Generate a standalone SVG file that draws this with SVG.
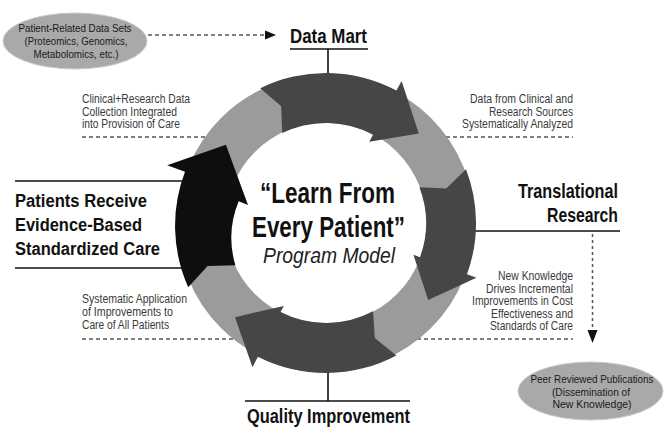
<svg xmlns="http://www.w3.org/2000/svg" width="666" height="434" viewBox="0 0 666 434">
<style>
.bg{fill:#ffffff}
.sm{font-family:"Liberation Sans",Arial,sans-serif;font-size:12.5px;fill:#3a3a3a}
.el{font-family:"Liberation Sans",Arial,sans-serif;font-size:11px;fill:#1a1a1a}
.hd{font-family:"Liberation Sans",Arial,sans-serif;font-weight:bold;fill:#111}
.ell{fill:#a9a9a9;stroke:#c8c8c8;stroke-width:1}
.dash{stroke:#555;stroke-width:1.3;stroke-dasharray:4 3;fill:none}
.dot{stroke:#555;stroke-width:1.5;stroke-dasharray:3 3;fill:none}
.solid{stroke:#111;stroke-width:1.6;fill:none}
.dark{fill:#464646}
.blk{fill:#0e0e0e}
.ah{fill:#111}
</style>
<rect class="bg" x="0" y="0" width="666" height="434"/>

<g id="connectors">
  <line class="dash" x1="148" y1="35" x2="265" y2="35"/>
  <polygon class="ah" points="265,30.5 276,35 265,39.5"/>
  <line class="solid" x1="328" y1="49" x2="328" y2="80"/>
  <line class="solid" x1="328" y1="368" x2="328" y2="401"/>
  <line class="solid" x1="15" y1="181" x2="190" y2="181"/>
  <line class="solid" x1="15" y1="268" x2="190" y2="268"/>
  <line class="solid" x1="465" y1="231" x2="620" y2="231"/>
  <line class="dot" x1="592.5" y1="234" x2="592.5" y2="331"/>
  <polygon class="ah" points="587.5,330 597.5,330 592.5,343"/>
  <line class="dash" x1="82" y1="137" x2="230" y2="137"/>
  <line class="dash" x1="425" y1="137" x2="573" y2="137"/>
  <line class="dash" x1="82" y1="339" x2="245" y2="339"/>
  <line class="dash" x1="410" y1="339" x2="573" y2="339"/>
</g>

<g id="cycle">
  <circle cx="326" cy="223" r="124.5" fill="none" stroke="#9b9b9b" stroke-width="48"/>
  <path id="arrow-top" class="dark" d="M260.2,88.2 A150,150 0 0 1 396.4,90.6 L401.6,80.9 L418.8,133.4 L369.2,141.8 L373.0,134.7 A100,100 0 0 0 282.2,133.1 L281.2,106.3 Z"/>
  <path id="arrow-right" class="dark" d="M466.0,169.2 A150,150 0 0 1 467.0,274.3 L476.4,277.7 L428.2,300.0 L413.4,254.8 L420.0,257.2 A100,100 0 0 0 419.4,187.2 L446.2,188.5 Z"/>
  <path id="arrow-bottom" class="dark" d="M396.4,355.4 A150,150 0 0 1 257.9,356.7 L252.5,367.3 L235.0,317.2 L283.8,305.9 L280.6,312.1 A100,100 0 0 0 373.0,311.3 L374.8,338.1 Z"/>
  <path id="arrow-left" class="blk" d="M188.2,287.2 A151,151 0 0 1 185.0,171.7 L167.2,165.2 L225.9,144.8 L248.0,205.0 L238.7,201.2 A96,96 0 0 0 235.4,265.3 L207.6,266.1 Z"/>
</g>

<g id="center-title">
  <text class="hd" x="327.5" y="203" font-size="29.5" text-anchor="middle" textLength="135" lengthAdjust="spacingAndGlyphs">“Learn From</text>
  <text class="hd" x="328.5" y="237" font-size="29.5" text-anchor="middle" textLength="153" lengthAdjust="spacingAndGlyphs">Every Patient”</text>
  <text x="329" y="263" font-family="'Liberation Sans',Arial,sans-serif" font-style="italic" font-size="21.5" fill="#222" text-anchor="middle" textLength="132" lengthAdjust="spacingAndGlyphs">Program Model</text>
</g>

<g id="patient-data-sets">
  <ellipse class="ell" cx="75" cy="41" rx="72" ry="28"/>
  <text class="el" x="75" y="32" text-anchor="middle" textLength="113" lengthAdjust="spacingAndGlyphs">Patient-Related Data Sets</text>
  <text class="el" x="76" y="45" text-anchor="middle" textLength="103" lengthAdjust="spacingAndGlyphs">(Proteomics, Genomics,</text>
  <text class="el" x="76" y="57.5" text-anchor="middle" textLength="85" lengthAdjust="spacingAndGlyphs">Metabolomics, etc.)</text>
</g>

<g id="data-mart">
  <text class="hd" x="290" y="42.5" font-size="20" textLength="77" lengthAdjust="spacingAndGlyphs">Data Mart</text>
  <line class="solid" x1="290" y1="49" x2="368" y2="49"/>
</g>

<g id="clinical-research">
  <text class="sm" x="82" y="103" textLength="108" lengthAdjust="spacingAndGlyphs">Clinical+Research Data</text>
  <text class="sm" x="82" y="115.5" textLength="95" lengthAdjust="spacingAndGlyphs">Collection Integrated</text>
  <text class="sm" x="82" y="128" textLength="98" lengthAdjust="spacingAndGlyphs">into Provision of Care</text>
</g>

<g id="data-analyzed">
  <text class="sm" x="573" y="103" text-anchor="end" textLength="103" lengthAdjust="spacingAndGlyphs">Data from Clinical and</text>
  <text class="sm" x="573" y="115.5" text-anchor="end" textLength="84" lengthAdjust="spacingAndGlyphs">Research Sources</text>
  <text class="sm" x="573" y="128" text-anchor="end" textLength="111" lengthAdjust="spacingAndGlyphs">Systematically Analyzed</text>
</g>

<g id="patients-receive">
  <text class="hd" x="15" y="207" font-size="18" textLength="132" lengthAdjust="spacingAndGlyphs">Patients Receive</text>
  <text class="hd" x="15" y="231" font-size="18" textLength="127" lengthAdjust="spacingAndGlyphs">Evidence-Based</text>
  <text class="hd" x="15" y="254.5" font-size="18" textLength="145" lengthAdjust="spacingAndGlyphs">Standardized Care</text>
</g>

<g id="translational-research">
  <text class="hd" x="618" y="198" font-size="19.5" text-anchor="end" textLength="100" lengthAdjust="spacingAndGlyphs">Translational</text>
  <text class="hd" x="618" y="222" font-size="19.5" text-anchor="end" textLength="71" lengthAdjust="spacingAndGlyphs">Research</text>
</g>

<g id="new-knowledge">
  <text class="sm" x="573" y="280" text-anchor="end" textLength="75" lengthAdjust="spacingAndGlyphs">New Knowledge</text>
  <text class="sm" x="573" y="292.5" text-anchor="end" textLength="87" lengthAdjust="spacingAndGlyphs">Drives Incremental</text>
  <text class="sm" x="573" y="305" text-anchor="end" textLength="101" lengthAdjust="spacingAndGlyphs">Improvements in Cost</text>
  <text class="sm" x="573" y="317.5" text-anchor="end" textLength="82" lengthAdjust="spacingAndGlyphs">Effectiveness and</text>
  <text class="sm" x="573" y="330" text-anchor="end" textLength="83" lengthAdjust="spacingAndGlyphs">Standards of Care</text>
</g>

<g id="systematic-application">
  <text class="sm" x="82" y="303" textLength="105" lengthAdjust="spacingAndGlyphs">Systematic Application</text>
  <text class="sm" x="82" y="316" textLength="91" lengthAdjust="spacingAndGlyphs">of Improvements to</text>
  <text class="sm" x="82" y="329" textLength="87" lengthAdjust="spacingAndGlyphs">Care of All Patients</text>
</g>

<g id="quality-improvement">
  <text class="hd" x="247" y="423" font-size="19.5" textLength="163" lengthAdjust="spacingAndGlyphs">Quality Improvement</text>
  <line class="solid" x1="245" y1="401" x2="410" y2="401"/>
</g>

<g id="peer-reviewed">
  <ellipse class="ell" cx="590.5" cy="391" rx="72.5" ry="29"/>
  <text class="el" x="592" y="383" text-anchor="middle" textLength="123" lengthAdjust="spacingAndGlyphs">Peer Reviewed Publications</text>
  <text class="el" x="591" y="395.5" text-anchor="middle" textLength="78" lengthAdjust="spacingAndGlyphs">(Dissemination of</text>
  <text class="el" x="592" y="407.5" text-anchor="middle" textLength="79" lengthAdjust="spacingAndGlyphs">New Knowledge)</text>
</g>
</svg>
